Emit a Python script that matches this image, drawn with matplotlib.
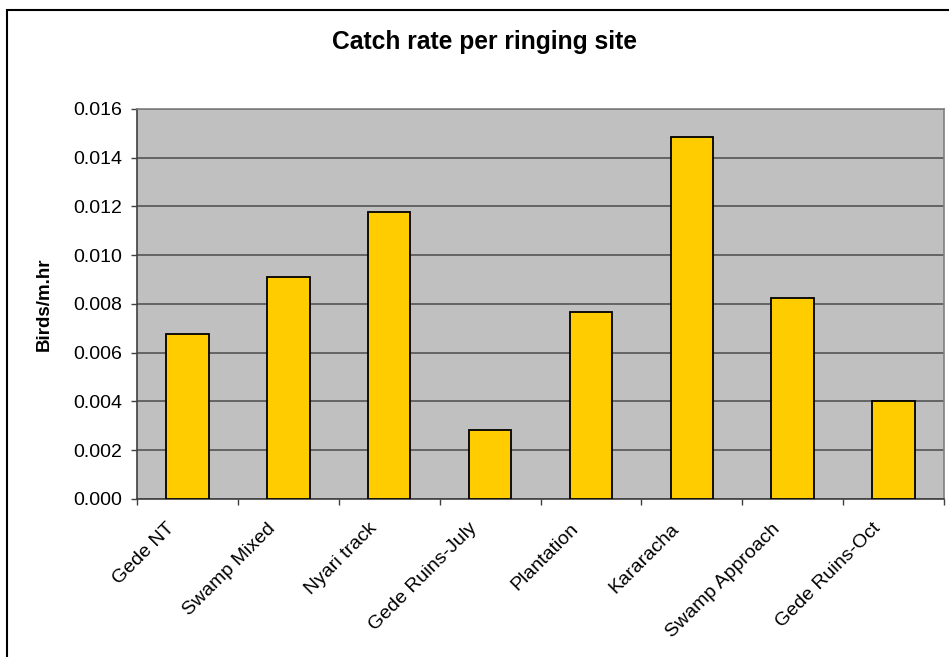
import matplotlib
matplotlib.use("Agg")
import matplotlib.pyplot as plt
import matplotlib.transforms as mtransforms
from matplotlib.patches import Rectangle
import numpy as np

# catch rate (birds per metre-hour) for each ringing site
sites = ["Gede NT", "Swamp Mixed", "Nyari track", "Gede Ruins-July",
         "Plantation", "Kararacha", "Swamp Approach", "Gede Ruins-Oct"]
rates = [0.00677, 0.00911, 0.01177, 0.00283, 0.00768, 0.01486, 0.00825, 0.00402]
yticks = [0.000, 0.002, 0.004, 0.006, 0.008, 0.010, 0.012, 0.014, 0.016]

plt.rcParams['font.family'] = ['Liberation Sans', 'DejaVu Sans']

fig = plt.figure(figsize=(9.49, 6.57), dpi=100)
ax = fig.add_axes([0.1444, 0.2405, 0.8503, 0.5936])
ax.set_facecolor("#C0C0C0")

x = np.arange(len(sites))
ax.bar(x, rates, width=0.42, color="#FFCC00", edgecolor="black", linewidth=1.3, zorder=3)

ax.set_xlim(-0.5, len(sites) - 0.5)
ax.set_ylim(0, 0.016)
ax.set_yticks(yticks)
ax.set_yticklabels(["%.3f" % v for v in yticks], fontsize=14)
ax.yaxis.grid(True, color="#555555", linewidth=1.2, zorder=1)
ax.tick_params(axis='y', direction='out', length=4.5, width=1, color="#404040", pad=6)

# category labels at bar centres, tick marks on category boundaries
ax.set_xticks(x)
ax.set_xticks(np.arange(-0.5, len(sites)), minor=True)
ax.tick_params(axis='x', which='major', length=0)
ax.tick_params(axis='x', which='minor', direction='out', length=4.5, width=1, color="#404040")
ax.set_xticklabels(sites, fontsize=14, rotation=45, ha='right', va='center',
                   rotation_mode='anchor')
offset = mtransforms.ScaledTranslation(-11 / 72, -16 / 72, fig.dpi_scale_trans)
for lbl in ax.get_xticklabels():
    lbl.set_transform(lbl.get_transform() + offset)

for side in ["left", "bottom"]:
    ax.spines[side].set_color("#404040")
    ax.spines[side].set_linewidth(1.2)
for side in ["right", "top"]:
    ax.spines[side].set_color("#808080")
    ax.spines[side].set_linewidth(1.2)

ax.set_ylabel("Birds/m.hr", fontsize=13.5, fontweight='bold')
ax.yaxis.set_label_coords(-0.104, 0.5)

fig.text(0.511, 0.936, "Catch rate per ringing site", fontsize=17.7, fontweight='bold',
         ha='center', va='center')

# chart frame
fig.patches.append(Rectangle((7 / 949, -0.1), 1.2, 1.1 - 10 / 657, transform=fig.transFigure,
                             fill=False, edgecolor="black", linewidth=1.5))

fig.savefig("out.png", dpi=100)
